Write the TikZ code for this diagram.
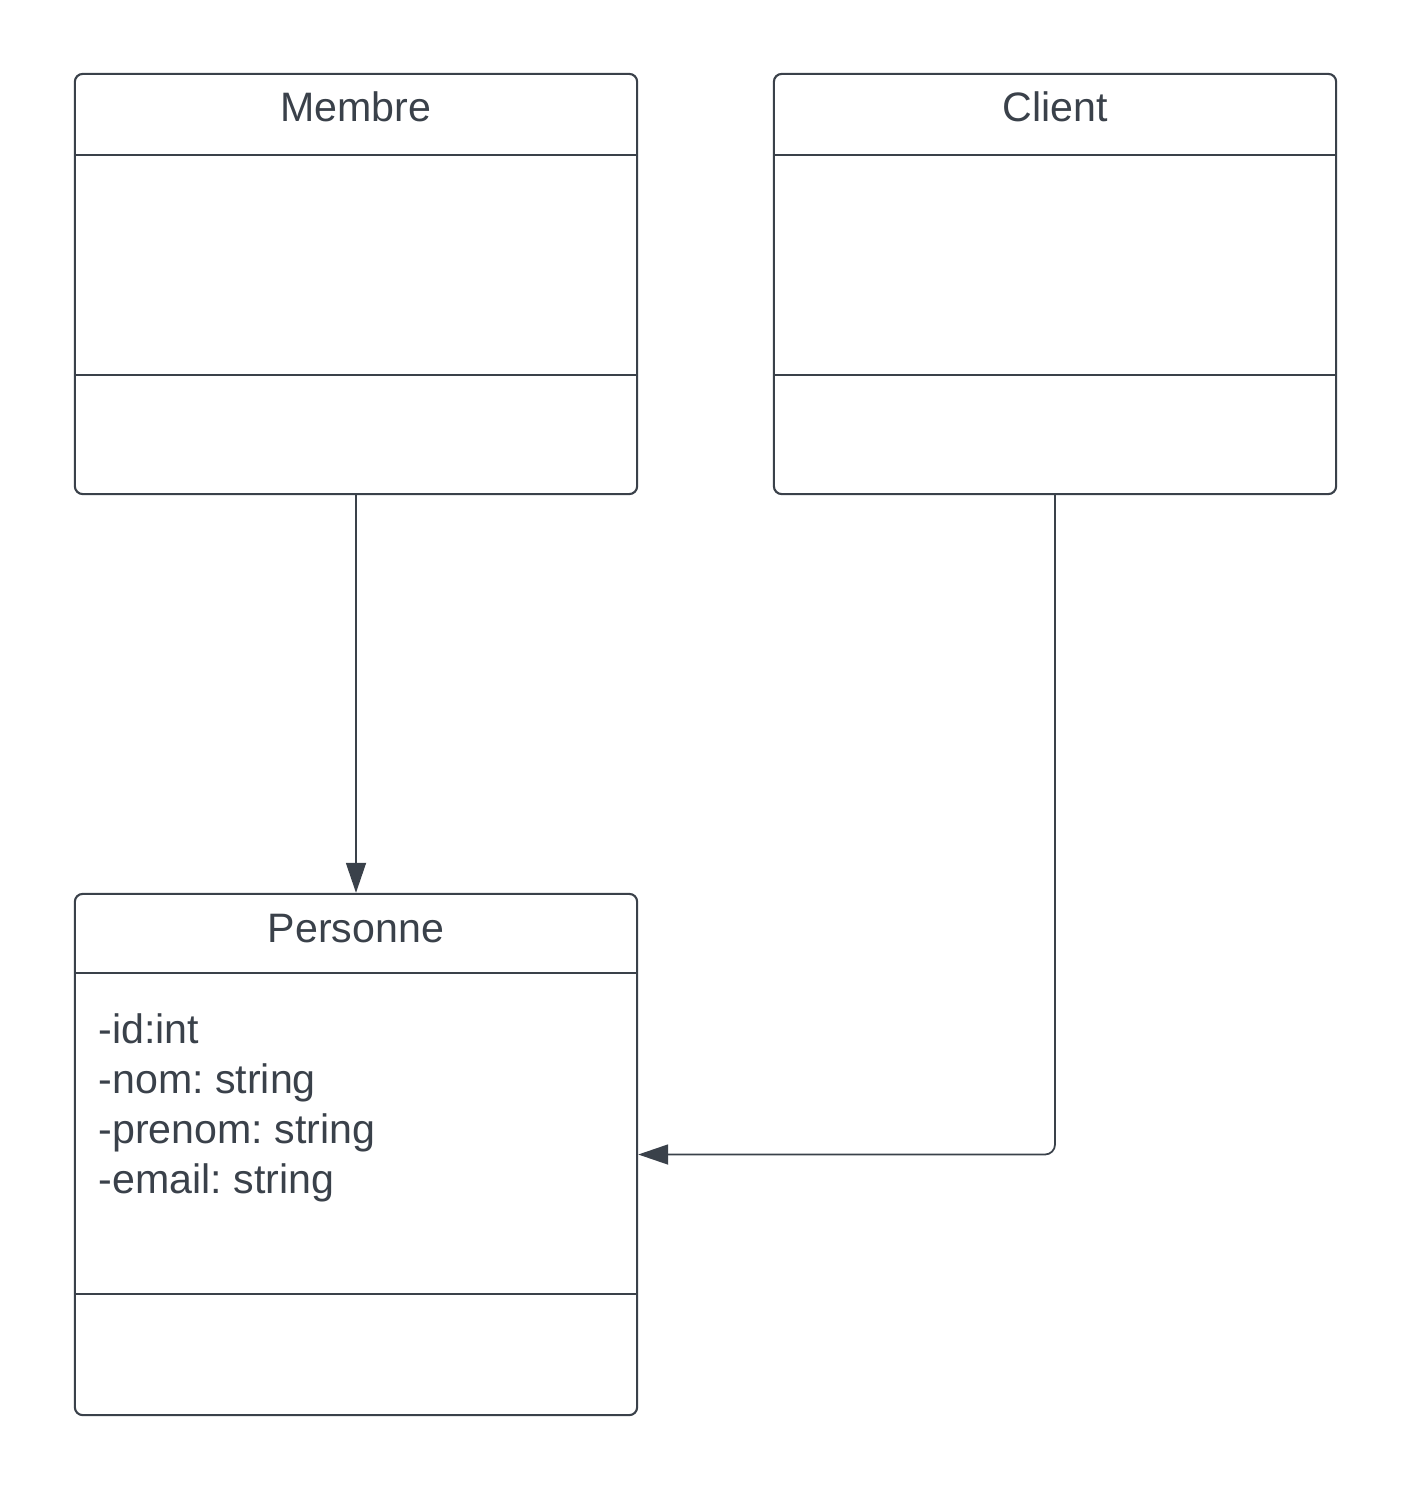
\documentclass[tikz,border=0pt]{standalone}
\usepackage{fontspec}
\setmainfont{Liberation Sans}
\usetikzlibrary{arrows.meta}
\definecolor{ink}{HTML}{3A414A}
\frenchspacing
\tikzset{
  classbox/.style={draw=ink, line width=0.6pt, rounded corners=0.08cm,
    minimum width=5.62cm, inner sep=0pt},
  classname/.style={text=ink, anchor=base, font=\fontsize{11.7}{14}\selectfont},
  attr/.style={text=ink, anchor=base west, inner sep=0pt, font=\fontsize{11.7}{14}\selectfont},
  conn/.style={draw=ink, line width=0.5pt, -{Triangle[length=0.3cm, width=0.2cm]}},
}
\begin{document}
\begin{tikzpicture}[x=0.01cm, y=-0.01cm]
\useasboundingbox (0,0) rectangle (1412,1491);
% class boxes
\node[classbox, minimum height=4.2cm] (membre) at (356,284) {};
\node[classbox, minimum height=4.2cm] (client) at (1055,284) {};
\node[classbox, minimum height=5.21cm] (personne) at (356,1154.5) {};
% dividers
\draw[ink, line width=0.6pt] (75,155) -- (637,155) (75,375) -- (637,375);
\draw[ink, line width=0.6pt] (774,155) -- (1336,155) (774,375) -- (1336,375);
\draw[ink, line width=0.6pt] (75,973) -- (637,973) (75,1294) -- (637,1294);
% names
\node[classname] (membreT) at (356,122) {Membre};
\node[classname] (clientT) at (1055,122) {Client};
\node[classname] (personneT) at (356,942) {Personne};
% attributes
\foreach \txt [count=\i] in {-id:int, -nom: string, -prenom: string, -email: string}
  \node[attr] (attr\i) at (98,993+50*\i) {\txt};
% links
\draw[conn] (membre.south) -- (personne.north);
\draw[conn, rounded corners=0.1cm] (client.south) |- (personne.east);
\end{tikzpicture}
\end{document}
